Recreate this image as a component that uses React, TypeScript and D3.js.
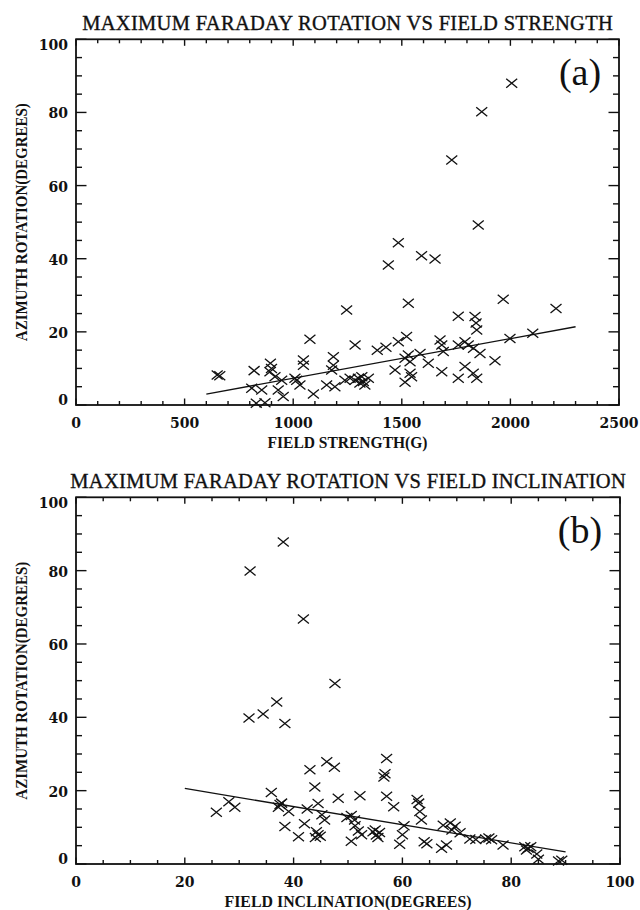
import React from "react";
import * as d3 from "d3";

// Panel (a): azimuth rotation against field strength
const strengthG = [650, 662, 820, 809, 855, 830, 870, 895, 900, 893, 916, 947, 931, 954, 1008, 1016, 1031, 1047, 1047, 1077, 1093, 1154, 1192, 1185, 1185, 1177, 1238, 1246, 1262, 1285, 1300, 1316, 1323, 1330, 1346, 1307, 1285, 1387, 1427, 1438, 1484, 1484, 1522, 1530, 1515, 1530, 1584, 1538, 1622, 1469, 1538, 1545, 1515, 1591, 1653, 1684, 1691, 1684, 1730, 1760, 1760, 1760, 1791, 1806, 1791, 1829, 1845, 1837, 1845, 1860, 1852, 1868, 1929, 1967, 1998, 2006, 2103, 2210, 1676, 1830, 1842];
const strengthRot = [8.2, 8.0, 9.4, 4.6, 4.1, 0.5, 0.6, 11.4, 10.0, 9.1, 7.7, 6.8, 4.1, 2.3, 7.3, 6.8, 5.5, 12.3, 10.9, 18.0, 3.0, 5.5, 5.0, 13.2, 10.9, 9.6, 6.8, 26.0, 7.3, 6.8, 7.3, 7.7, 6.4, 5.5, 7.3, 6.0, 16.4, 15.0, 15.8, 38.3, 44.4, 17.3, 18.7, 27.8, 12.8, 13.7, 14.1, 11.8, 11.4, 9.6, 8.7, 7.7, 6.2, 40.8, 39.9, 16.4, 14.6, 9.1, 67.0, 24.3, 16.4, 7.3, 17.3, 16.4, 10.5, 8.7, 7.3, 24.2, 20.5, 14.1, 49.2, 80.2, 12.1, 28.9, 18.2, 88.0, 19.6, 26.4, 17.8, 15.5, 22.4];
const strengthFitX = [600, 2300];
const strengthFitY = [3.0, 21.4];
const strengthTicks = [0, 500, 1000, 1500, 2000, 2500];

// Panel (b): azimuth rotation against field inclination
const inclDeg = [25.8, 28.1, 29.2, 31.8, 32.0, 34.4, 35.9, 36.9, 37.2, 37.5, 37.8, 38.1, 38.4, 38.4, 39.1, 40.9, 41.8, 42.0, 42.5, 43.0, 43.9, 44.5, 44.2, 44.5, 44.9, 44.0, 45.2, 45.7, 46.1, 47.5, 47.6, 48.2, 49.8, 50.6, 51.2, 51.3, 51.9, 52.5, 50.6, 52.2, 54.6, 55.0, 55.2, 55.8, 55.5, 56.6, 56.8, 57.1, 57.1, 58.4, 59.5, 60.0, 60.3, 62.7, 63.0, 63.2, 63.5, 64.0, 64.5, 67.2, 68.1, 67.5, 68.8, 69.7, 69.1, 70.6, 72.4, 73.5, 75.3, 75.9, 76.4, 78.5, 82.5, 82.8, 83.1, 83.6, 84.7, 85.0, 88.7, 89.3];
const inclRot = [14.1, 17.0, 15.5, 39.8, 79.9, 40.9, 19.5, 44.2, 15.5, 16.2, 16.6, 87.8, 38.3, 10.2, 14.3, 7.4, 66.8, 11.0, 15.0, 25.7, 21.0, 16.5, 8.8, 8.0, 7.6, 7.2, 13.4, 12.0, 27.9, 26.4, 49.2, 17.9, 12.7, 13.2, 12.0, 10.4, 9.0, 8.0, 6.2, 18.6, 8.8, 9.3, 7.9, 8.6, 7.2, 23.7, 24.6, 28.8, 18.5, 15.6, 5.4, 8.0, 10.4, 17.6, 16.6, 14.3, 12.0, 6.1, 5.5, 4.3, 5.2, 10.6, 11.2, 10.3, 9.3, 8.5, 6.8, 6.7, 6.8, 7.1, 6.6, 5.2, 4.7, 3.8, 4.3, 4.7, 2.7, 1.3, 0.8, 1.0];
const inclFitX = [20, 90];
const inclFitY = [20.6, 3.3];
const inclTicks = [0, 20, 40, 60, 80, 100];

const rotationTicks = [0, 20, 40, 60, 80, 100];

const SERIF = "'Liberation Serif', 'DejaVu Serif', serif";
const NUM = "'DejaVu Serif', serif";

type PanelProps = {
  top: number;
  bottom: number;
  left: number;
  right: number;
  xs: number[];
  ys: number[];
  fitX: number[];
  fitY: number[];
  xTicks: number[];
  xMinor: number;
  title: string;
  xTitle: string;
  xTitleLen: number;
  tag: string;
};

function Panel(p: PanelProps) {
  const xMax = p.xTicks[p.xTicks.length - 1];
  const x = d3.scaleLinear().domain([0, xMax]).range([p.left, p.right]);
  const y = d3.scaleLinear().domain([0, 100]).range([p.bottom, p.top]);
  const xMinorTicks = d3.range(0, xMax + 1e-9, p.xMinor).filter((v) => !p.xTicks.includes(v));
  const yMinorTicks = d3.range(0, 100.001, 5).filter((v) => !rotationTicks.includes(v));
  const line = d3
    .line<number>()
    .x((_, i) => x(p.fitX[i]))
    .y((_, i) => y(p.fitY[i]));
  const cx = (p.left + p.right) / 2;
  const cy = (p.top + p.bottom) / 2;
  const xMaj = 6.5, xMin = 4, yMaj = 10.5, yMin = 6;
  const hx = 5.5, hy = 4.5;

  return (
    <g>
      <text x={cx + 0.15} y={p.top - 9.5} textAnchor="middle" fontFamily={SERIF} fontSize={20.5}
        letterSpacing={0.3} fill="#111" stroke="#111" strokeWidth={0.35}>{p.title}</text>

      {/* tick marks on all four sides */}
      <g stroke="#111" strokeWidth={1.4}>
        {p.xTicks.map((v) => (
          <g key={"xm" + v}>
            <line x1={x(v)} x2={x(v)} y1={p.bottom} y2={p.bottom - xMaj} />
            <line x1={x(v)} x2={x(v)} y1={p.top} y2={p.top + xMaj} />
          </g>
        ))}
        {xMinorTicks.map((v) => (
          <g key={"xn" + v}>
            <line x1={x(v)} x2={x(v)} y1={p.bottom} y2={p.bottom - xMin} />
            <line x1={x(v)} x2={x(v)} y1={p.top} y2={p.top + xMin} />
          </g>
        ))}
        {rotationTicks.map((v) => (
          <g key={"ym" + v}>
            <line x1={p.left} x2={p.left + yMaj} y1={y(v)} y2={y(v)} />
            <line x1={p.right} x2={p.right - yMaj} y1={y(v)} y2={y(v)} />
          </g>
        ))}
        {yMinorTicks.map((v) => (
          <g key={"yn" + v}>
            <line x1={p.left} x2={p.left + yMin} y1={y(v)} y2={y(v)} />
            <line x1={p.right} x2={p.right - yMin} y1={y(v)} y2={y(v)} />
          </g>
        ))}
      </g>

      <rect x={p.left} y={p.top} width={p.right - p.left} height={p.bottom - p.top}
        fill="none" stroke="#111" strokeWidth={1.8} />

      {/* tick labels */}
      <g fontFamily={NUM} fontWeight="bold" fontSize={14} fill="#111">
        {p.xTicks.map((v) => (
          <text key={"xl" + v} x={x(v)} y={p.bottom + 17.5} textAnchor="middle" dominantBaseline="central">{v}</text>
        ))}
        {rotationTicks.map((v) => (
          <text key={"yl" + v} x={p.left - 8} y={y(v) + (v === 100 ? 5.5 : v === 0 ? -5 : 1)}
            textAnchor="end" dominantBaseline="central">{v}</text>
        ))}
      </g>

      {/* axis titles */}
      <text x={cx} y={p.bottom + 43} textAnchor="middle" fontFamily={SERIF} fontWeight="bold" fontSize={16}
        textLength={p.xTitleLen} lengthAdjust="spacingAndGlyphs" fill="#111">{p.xTitle}</text>
      <text transform={`translate(27,${cy}) rotate(-90)`} textAnchor="middle" fontFamily={SERIF}
        fontWeight="bold" fontSize={16} textLength={238} lengthAdjust="spacingAndGlyphs" fill="#111">
        AZIMUTH ROTATION(DEGREES)
      </text>

      {/* regression line */}
      <path d={line(p.fitX) || ""} fill="none" stroke="#111" strokeWidth={1.3} />

      {/* data markers */}
      <g stroke="#111" strokeWidth={1.3} fill="none">
        {p.xs.map((v, i) => {
          const px = x(v), py = y(p.ys[i]);
          return (
            <path key={i}
              d={`M${px - hx},${py - hy}L${px + hx},${py + hy}M${px - hx},${py + hy}L${px + hx},${py - hy}`} />
          );
        })}
      </g>

      <text x={580} y={p.top + 46} textAnchor="middle" fontFamily={SERIF} fontSize={38} fill="#111">{p.tag}</text>
    </g>
  );
}

export default function App() {
  return (
    <svg width={640} height={910} style={{ position: "absolute", left: 0, top: 0, background: "#fff" }}>
      <rect width={640} height={910} fill="#fff" />
      <Panel top={39.3} bottom={405} left={76} right={619}
        xs={strengthG} ys={strengthRot} fitX={strengthFitX} fitY={strengthFitY}
        xTicks={strengthTicks} xMinor={100}
        title="MAXIMUM FARADAY ROTATION VS FIELD STRENGTH"
        xTitle="FIELD STRENGTH(G)" xTitleLen={160} tag="(a)" />
      <Panel top={497.3} bottom={864} left={76} right={620}
        xs={inclDeg} ys={inclRot} fitX={inclFitX} fitY={inclFitY}
        xTicks={inclTicks} xMinor={5}
        title="MAXIMUM FARADAY ROTATION VS FIELD INCLINATION"
        xTitle="FIELD INCLINATION(DEGREES)" xTitleLen={247} tag="(b)" />
    </svg>
  );
}
